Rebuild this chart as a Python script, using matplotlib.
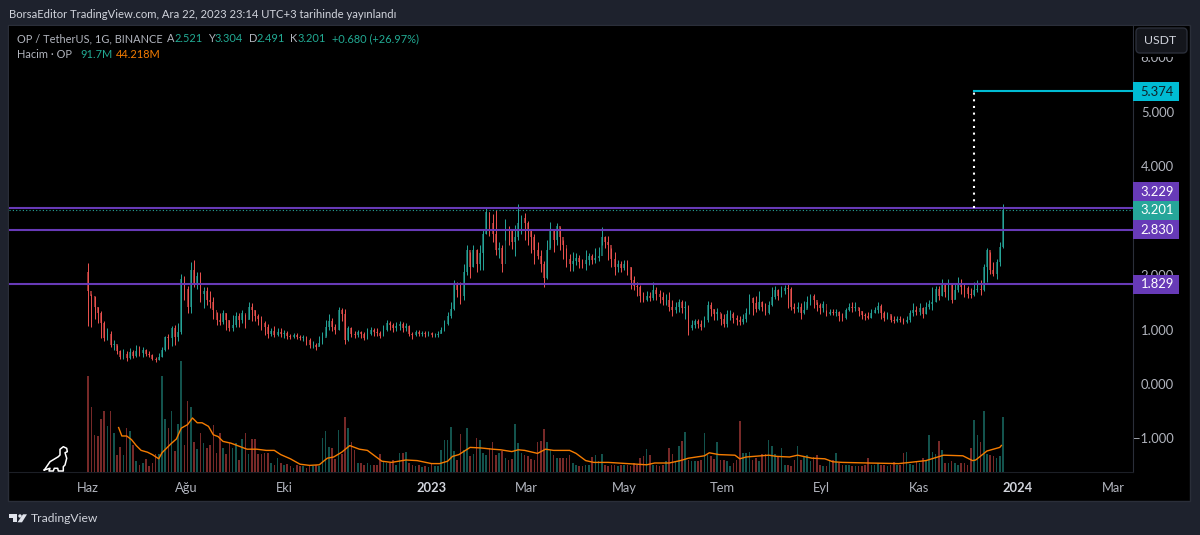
import numpy as np
import matplotlib
matplotlib.use("Agg")
import matplotlib.pyplot as plt
from matplotlib.patches import Rectangle, FancyBboxPatch, Polygon

plt.rcParams["font.family"] = ["Lato", "DejaVu Sans"]

# Values. Single daily candles are too thin to read, so one bar
# here stands for about two days (day 0 = 1 Jun 2022).
STEP_DAYS = 2
first_open = 2.05

closes = [
    1.70, 1.62, 1.42, 1.30, 1.12, 0.85, 0.92, 0.72, 0.74, 0.60,
    0.50, 0.55, 0.48, 0.58, 0.52, 0.60, 0.56, 0.62, 0.55, 0.54,
    0.46, 0.44, 0.50, 0.62, 0.86, 0.84, 1.02, 0.86, 0.95, 1.92,
    1.75, 1.42, 2.10, 1.85, 1.98, 1.65, 1.70, 1.55, 1.50, 1.35,
    1.18, 1.14, 1.30, 1.18, 1.02, 1.08, 1.25, 1.18, 1.30, 1.18,
    1.42, 1.35, 1.25, 1.20, 1.12, 1.05, 0.92, 0.98, 0.90, 0.96,
    0.92, 0.94, 0.88, 0.86, 0.90, 0.86, 0.84, 0.86, 0.80, 0.72,
    0.72, 0.68, 0.75, 0.85, 1.05, 1.15, 1.05, 1.00, 1.35, 1.28,
    0.80, 1.02, 0.92, 0.90, 0.95, 0.92, 0.84, 0.92, 1.00, 0.96,
    0.94, 0.88, 1.00, 1.12, 1.08, 1.02, 1.06, 1.10, 1.02, 1.06,
    0.92, 0.90, 0.96, 0.92, 0.94, 0.92, 0.94, 0.90, 0.90, 0.92,
    1.00, 1.10, 1.25, 1.38, 1.82, 1.72, 1.62, 2.05, 2.45, 2.15,
    2.45, 2.20, 2.40, 2.75, 3.15, 2.95, 2.75, 2.45, 2.50, 2.20,
    2.85, 2.80, 2.60, 2.70, 2.95, 3.05, 2.95, 2.85, 2.70, 2.45,
    2.35, 2.20, 1.95, 2.45, 2.80, 2.65, 2.90, 2.70, 2.55, 2.30,
    2.20, 2.25, 2.32, 2.24, 2.20, 2.28, 2.35, 2.28, 2.32, 2.35,
    2.70, 2.60, 2.55, 2.30, 2.15, 2.20, 2.12, 2.20, 2.15, 1.90,
    1.80, 1.78, 1.62, 1.55, 1.62, 1.58, 1.72, 1.65, 1.60, 1.55,
    1.55, 1.42, 1.36, 1.42, 1.50, 1.40, 1.42, 1.02, 1.08, 1.15,
    1.10, 1.05, 1.18, 1.45, 1.38, 1.28, 1.32, 1.20, 1.10, 1.28,
    1.28, 1.22, 1.18, 1.14, 1.20, 1.30, 1.58, 1.48, 1.38, 1.50,
    1.42, 1.30, 1.45, 1.60, 1.72, 1.62, 1.70, 1.76, 1.75, 1.42,
    1.38, 1.42, 1.30, 1.35, 1.50, 1.62, 1.55, 1.45, 1.40, 1.46,
    1.28, 1.32, 1.30, 1.32, 1.24, 1.22, 1.36, 1.42, 1.40, 1.42,
    1.34, 1.26, 1.24, 1.22, 1.30, 1.36, 1.44, 1.30, 1.22, 1.28,
    1.18, 1.16, 1.20, 1.18, 1.14, 1.18, 1.30, 1.36, 1.32, 1.40,
    1.28, 1.42, 1.46, 1.50, 1.75, 1.62, 1.82, 1.68, 1.86, 1.55,
    1.72, 1.82, 1.78, 1.76, 1.66, 1.64, 1.72, 1.74, 1.72, 2.15,
    2.45, 2.10, 2.02, 2.24, 2.52, 3.20,
]
highs = [
    2.22, 1.66, 1.62, 1.42, 1.34, 1.15, 1.02, 0.98, 0.80, 0.72,
    0.62, 0.64, 0.60, 0.66, 0.62, 0.72, 0.70, 0.68, 0.64, 0.60,
    0.55, 0.50, 0.56, 0.68, 0.88, 0.92, 1.06, 1.08, 1.12, 2.02,
    1.98, 1.80, 2.24, 2.28, 2.06, 2.05, 1.78, 1.78, 1.70, 1.60,
    1.32, 1.30, 1.36, 1.30, 1.18, 1.26, 1.32, 1.30, 1.35, 1.28,
    1.50, 1.48, 1.36, 1.28, 1.25, 1.15, 1.10, 1.02, 1.06, 1.02,
    1.02, 1.00, 0.98, 0.92, 0.94, 0.93, 0.90, 0.90, 0.88, 0.85,
    0.78, 0.75, 0.88, 0.95, 1.18, 1.28, 1.22, 1.10, 1.42, 1.40,
    1.38, 1.06, 1.05, 0.98, 1.00, 0.98, 0.96, 1.02, 1.04, 1.02,
    1.02, 0.98, 1.08, 1.18, 1.16, 1.12, 1.14, 1.16, 1.14, 1.12,
    1.08, 0.96, 1.00, 1.00, 0.98, 0.98, 0.98, 0.96, 0.94, 0.98,
    1.04, 1.18, 1.32, 1.50, 1.90, 1.88, 1.88, 2.20, 2.55, 2.42,
    2.55, 2.48, 2.55, 2.85, 3.25, 3.15, 3.12, 3.20, 2.60, 2.55,
    3.02, 2.90, 2.85, 2.92, 3.30, 3.10, 3.14, 3.00, 2.85, 2.75,
    2.60, 2.45, 2.25, 2.65, 2.98, 2.85, 2.96, 2.88, 2.65, 2.50,
    2.38, 2.42, 2.40, 2.36, 2.30, 2.46, 2.40, 2.38, 2.50, 2.52,
    2.88, 2.72, 2.72, 2.50, 2.42, 2.28, 2.26, 2.28, 2.28, 2.15,
    1.98, 1.88, 1.82, 1.68, 1.70, 1.68, 1.88, 1.78, 1.72, 1.68,
    1.66, 1.68, 1.55, 1.50, 1.56, 1.55, 1.52, 1.45, 1.18, 1.20,
    1.20, 1.18, 1.24, 1.52, 1.50, 1.38, 1.40, 1.30, 1.28, 1.36,
    1.35, 1.32, 1.26, 1.24, 1.28, 1.40, 1.66, 1.60, 1.62, 1.70,
    1.52, 1.48, 1.52, 1.78, 1.80, 1.74, 1.80, 1.82, 1.84, 1.78,
    1.48, 1.50, 1.48, 1.52, 1.62, 1.66, 1.66, 1.50, 1.48, 1.52,
    1.36, 1.38, 1.38, 1.38, 1.34, 1.30, 1.40, 1.48, 1.50, 1.50,
    1.42, 1.34, 1.30, 1.32, 1.38, 1.42, 1.50, 1.46, 1.34, 1.32,
    1.26, 1.24, 1.24, 1.24, 1.22, 1.24, 1.36, 1.48, 1.44, 1.48,
    1.42, 1.50, 1.54, 1.78, 1.80, 1.80, 1.92, 1.86, 1.92, 1.86,
    1.84, 1.96, 1.92, 1.84, 1.80, 1.76, 1.88, 1.90, 1.90, 2.20,
    2.50, 2.42, 2.24, 2.30, 2.60, 3.30,
]
lows = [
    1.06, 1.04, 1.20, 1.12, 0.85, 0.78, 0.80, 0.68, 0.62, 0.55,
    0.46, 0.46, 0.42, 0.46, 0.48, 0.50, 0.52, 0.50, 0.52, 0.50,
    0.44, 0.41, 0.44, 0.50, 0.60, 0.64, 0.70, 0.72, 0.78, 0.92,
    1.55, 1.30, 1.30, 1.78, 1.75, 1.50, 1.40, 1.45, 1.40, 1.20,
    1.08, 1.08, 1.10, 1.00, 0.98, 0.98, 1.04, 1.05, 1.12, 1.02,
    1.20, 1.15, 1.15, 1.08, 1.00, 0.90, 0.85, 0.88, 0.86, 0.88,
    0.86, 0.84, 0.82, 0.82, 0.84, 0.82, 0.80, 0.78, 0.72, 0.66,
    0.66, 0.63, 0.70, 0.74, 0.88, 1.00, 0.98, 0.92, 1.00, 1.15,
    0.74, 0.78, 0.86, 0.84, 0.86, 0.84, 0.80, 0.82, 0.90, 0.88,
    0.88, 0.84, 0.88, 0.98, 1.00, 0.96, 0.98, 1.00, 0.96, 0.98,
    0.88, 0.82, 0.88, 0.88, 0.88, 0.86, 0.88, 0.86, 0.86, 0.86,
    0.94, 0.98, 1.08, 1.22, 1.36, 1.60, 1.46, 1.55, 2.00, 1.95,
    2.15, 2.05, 2.10, 2.10, 2.75, 2.72, 2.60, 2.36, 2.32, 2.06,
    2.65, 2.55, 2.48, 2.35, 2.65, 2.75, 2.65, 2.55, 2.40, 2.20,
    2.30, 2.05, 1.78, 1.92, 2.50, 2.42, 2.55, 2.45, 2.30, 2.15,
    2.08, 2.08, 2.18, 2.12, 2.12, 2.10, 2.18, 2.20, 2.22, 2.25,
    2.55, 2.50, 2.28, 2.15, 2.00, 2.05, 2.05, 2.10, 2.00, 1.75,
    1.72, 1.62, 1.50, 1.50, 1.52, 1.52, 1.55, 1.55, 1.48, 1.45,
    1.45, 1.34, 1.24, 1.30, 1.32, 1.30, 1.20, 0.90, 1.00, 1.02,
    1.02, 1.00, 1.05, 1.14, 1.24, 1.18, 1.18, 1.08, 1.04, 1.05,
    1.18, 1.12, 1.08, 1.08, 1.10, 1.14, 1.28, 1.26, 1.32, 1.36,
    1.34, 1.26, 1.28, 1.44, 1.56, 1.55, 1.60, 1.66, 1.40, 1.36,
    1.30, 1.32, 1.20, 1.28, 1.40, 1.45, 1.40, 1.34, 1.28, 1.32,
    1.24, 1.26, 1.26, 1.24, 1.16, 1.16, 1.20, 1.34, 1.32, 1.34,
    1.24, 1.20, 1.18, 1.20, 1.22, 1.30, 1.30, 1.20, 1.16, 1.20,
    1.14, 1.12, 1.14, 1.14, 1.10, 1.12, 1.14, 1.24, 1.26, 1.26,
    1.22, 1.28, 1.38, 1.36, 1.50, 1.55, 1.62, 1.60, 1.55, 1.48,
    1.56, 1.68, 1.66, 1.60, 1.58, 1.58, 1.62, 1.68, 1.64, 1.70,
    1.88, 2.02, 1.98, 1.92, 2.16, 2.49,
]
volumes = [
    160, 108, 62, 60, 88, 101, 76, 101, 65, 29,
    42, 29, 73, 68, 45, 18, 12, 15, 22, 10,
    15, 30, 30, 160, 88, 73, 101, 35, 80, 185,
    45, 118, 108, 50, 38, 65, 48, 40, 45, 79,
    32, 65, 40, 30, 48, 40, 48, 20, 55, 65,
    30, 55, 55, 30, 30, 32, 32, 15, 12, 23,
    15, 12, 14, 10, 7, 12, 10, 10, 7, 10,
    10, 12, 10, 56, 68, 42, 40, 22, 70, 30,
    92, 73, 50, 37, 15, 15, 12, 15, 12, 12,
    12, 30, 18, 15, 15, 20, 12, 32, 32, 34,
    15, 12, 10, 12, 8, 10, 8, 14, 10, 10,
    37, 54, 54, 75, 35, 20, 64, 37, 73, 26,
    30, 57, 54, 32, 29, 40, 50, 29, 32, 35,
    23, 20, 22, 80, 48, 32, 29, 26, 22, 20,
    50, 52, 72, 50, 37, 29, 24, 23, 23, 23,
    29, 15, 12, 10, 10, 12, 12, 25, 29, 18,
    30, 12, 10, 12, 12, 10, 11, 12, 12, 10,
    15, 12, 23, 26, 38, 29, 12, 12, 10, 12,
    18, 40, 30, 18, 43, 52, 66, 20, 18, 18,
    18, 20, 65, 29, 26, 22, 50, 20, 20, 18,
    10, 15, 20, 85, 32, 32, 34, 20, 23, 18,
    30, 30, 53, 43, 30, 26, 40, 12, 12, 10,
    20, 43, 20, 26, 29, 18, 25, 29, 12, 10,
    10, 20, 20, 31, 15, 12, 12, 12, 10, 10,
    10, 10, 12, 23, 12, 12, 15, 12, 12, 10,
    12, 16, 12, 12, 32, 33, 14, 12, 18, 15,
    23, 20, 61, 34, 30, 51, 37, 15, 15, 18,
    15, 12, 15, 15, 12, 40, 86, 62, 50, 101,
    30, 28, 26, 24, 26, 92,
]
ma_days = [
    19, 21, 24, 27, 30, 33, 37, 40, 44, 46, 49, 52, 55, 58, 62, 65, 68, 71, 75, 78,
    81, 84, 89, 93, 99, 105, 111, 116, 120, 126, 132, 138, 144, 149, 153, 158, 163,
    169, 174, 179, 183, 189, 198, 205, 214, 219, 224, 227, 231, 238, 245, 252, 257,
    264, 268, 272, 280, 285, 290, 300, 304, 310, 315, 324, 336, 348, 353, 362, 369,
    374, 384, 387, 393, 403, 406, 410, 424, 429, 437, 442, 451, 459, 464, 470, 486,
    505, 512, 522, 533, 545, 551, 553, 560, 568, 569,
]
ma_values = [
    74, 60, 60, 54, 44, 36, 33, 29, 22, 32, 40, 48, 55, 73, 79, 90, 82, 82, 76, 62,
    59, 51, 48, 44, 38, 38, 36, 36, 29, 22, 13, 11, 12, 23, 25, 33, 44,
    38, 36, 26, 18, 16, 20, 19, 14, 14, 18, 26, 29, 41, 40, 38, 37,
    34, 37, 36, 31, 38, 36, 36, 31, 19, 16, 16, 14, 12, 15, 15, 19,
    23, 27, 32, 29, 28, 22, 25, 28, 26, 25, 28, 23, 22, 17, 16, 15,
    14, 16, 19, 28, 27, 19, 20, 35, 41, 44.2,
]
month_days = [0, 61, 122, 214, 273, 334, 395, 457, 518, 579, 639]
month_labels = ["Haz", "Ağu", "Eki", "2023", "Mar", "May", "Tem", "Eyl", "Kas", "2024", "Mar"]
# 3.000 sits fully behind the level tags in the chart, so it is not shown
price_ticks = [6, 5, 4, 2, 1, 0, -1]
support_levels = [3.229, 2.830, 1.829]
target_level = 5.374
last_close = 3.201

UP = "#26a69a"
DOWN = "#ef5350"
PURPLE = "#673ab7"
CYAN = "#00bcd4"
FRAME = "#1e222d"
GREY = "#b2b5be"

fig = plt.figure(figsize=(12, 5.35), dpi=100, facecolor=FRAME)


def px_axes(left, top, right, bottom):
    return fig.add_axes([left / 1200, 1 - bottom / 535, (right - left) / 1200, (bottom - top) / 535])


# black panel behind pane, scale and time axis
back = px_axes(0, 0, 1200, 535)
back.set_xlim(0, 1200)
back.set_ylim(535, 0)
back.axis("off")
back.add_patch(Rectangle((8, 25), 1182, 476, fc="black", ec="#2a2e39", lw=1))

ax = px_axes(9, 26, 1133, 472)
ax.set_facecolor("black")
ax.set_xlim(-49.3, 651)
ax.set_ylim(-1.615, 6.57)
for s in ax.spines.values():
    s.set_visible(False)
ax.spines["right"].set_visible(True)
ax.spines["right"].set_color("#2a2e39")
ax.spines["bottom"].set_visible(True)
ax.spines["bottom"].set_color("#1c1f26")

days = np.arange(len(closes)) * STEP_DAYS
closes = np.array(closes)
opens = np.r_[first_open, closes[:-1]]
colors = [UP if c >= o else DOWN for o, c in zip(opens, closes)]

ax.vlines(days, lows, highs, colors=colors, lw=0.7, zorder=3)
ax.bar(days, closes - opens, bottom=opens, width=1.1, color=colors, alpha=0.6, lw=0, zorder=3)

ax.yaxis.tick_right()
ax.set_yticks(price_ticks)
ax.set_yticklabels([f"{v:.3f}".replace("-", "\u2212") for v in price_ticks], color=GREY, fontsize=9.4, ha="right")
ax.tick_params(axis="y", length=0, pad=29.5)
ax.set_xticks(month_days)
ax.set_xticklabels(month_labels, color=GREY, fontsize=9.3)
ax.tick_params(axis="x", length=0, pad=7)
for lab in ax.get_xticklabels():
    if lab.get_text() in ("2023", "2024"):
        lab.set_fontweight("bold")
        lab.set_color("#d1d4dc")

for level in support_levels:
    ax.axhline(level, color=PURPLE, lw=1.5, zorder=4)
ax.axhline(last_close, color=UP, lw=0.8, ls=(0, (1, 2)), zorder=4)
target_day = 552
ax.plot([target_day, 651], [target_level, target_level], color=CYAN, lw=1.5, zorder=4)
ax.plot([target_day, target_day], [support_levels[0], target_level], color="white", lw=1.5, ls=(0, (1, 2.2)), zorder=4)

# volume overlay shares the pane, 0.6 px per million
vol = px_axes(9, 26, 1133, 472)
vol.patch.set_alpha(0)
vol.axis("off")
vol.set_xlim(ax.get_xlim())
vol.set_ylim(0, 743)
vol.bar(days, volumes, width=1.0, color=colors, alpha=0.5, lw=0)
vol.plot(ma_days, ma_values, color="#f57c00", lw=1.0)

# tags, header, legend and footer on a pixel overlay
top = px_axes(0, 0, 1200, 535)
top.set_xlim(0, 1200)
top.set_ylim(535, 0)
top.axis("off")
top.patch.set_alpha(0)


def label(x, y, s, color=GREY, size=7.9, **kw):
    top.text(x, y, s, color=color, fontsize=size, va="center", **kw)


def price_tag(y_top, y_bot, s, bg, fg="white"):
    top.add_patch(Rectangle((1133, y_top), 46, y_bot - y_top, fc=bg, lw=0))
    label(1174, (y_top + y_bot) / 2, s, color=fg, size=9.4, ha="right")


price_tag(82, 101, f"{target_level:.3f}", CYAN, "#10222a")
price_tag(182, 201, f"{support_levels[0]:.3f}", PURPLE)
price_tag(201, 220, f"{last_close:.3f}", UP)
price_tag(220, 239, f"{support_levels[1]:.3f}", PURPLE)
price_tag(275, 294, f"{support_levels[2]:.3f}", PURPLE)

# the scale button covers the top half of the 6.000 label
top.add_patch(Rectangle((1134, 26), 55, 30.5, fc="black", lw=0))
top.add_patch(FancyBboxPatch((1138, 30), 47, 21, boxstyle="round,pad=2,rounding_size=4", fc="#14161c", ec="#2a2e39", lw=1))
label(1160, 41, "USDT", color="#d1d4dc", size=8.8, ha="center")

label(9, 14, "BorsaEditor TradingView.com, Ara 22, 2023 23:14 UTC+3 tarihinde yayınlandı", color="#d1d4dc", size=8.1)

teal = "#22ab94"
label(17, 39, "OP / TetherUS, 1G, BINANCE")
label(167, 39, "A")
label(174, 39, "2.521", teal)
label(208, 39, "Y")
label(215, 39, "3.304", teal)
label(249, 39, "D")
label(256, 39, "2.491", teal)
label(290, 39, "K")
label(298, 39, "3.201", teal)
label(332, 39, "+0.680 (+26.97%)", teal)
label(17, 55, "Hacim · OP")
label(80, 55, "91.7M", teal)
label(116, 55, "44.218M", "#f57c00")

# dino watermark
dino_x = [44.3, 50, 58.3, 60, 60, 63.3, 66.7, 67.3, 65, 66.7, 65, 63.3, 63.3, 58.3, 57.7, 54.3, 53.3, 49, 50, 44.3]
dino_y = [470, 461.7, 456.7, 455, 449.3, 446.7, 448.3, 451.7, 452.7, 458.3, 465, 466.7, 471, 471, 468.3, 468.3, 471, 471, 468.3, 470]
top.plot(dino_x, dino_y, color="white", lw=1.1)

# TradingView logo
logo = "#e0e3eb"
top.add_patch(Polygon([(9.3, 514.3), (16.7, 514.3), (16.7, 522.3), (12.7, 522.3), (12.7, 518.3), (9.3, 518.3)], fc=logo, lw=0))
top.add_patch(Polygon([(23, 514.3), (27, 514.3), (22, 522.3), (17.5, 522.3)], fc=logo, lw=0))
top.add_patch(plt.Circle((20, 516), 1.7, fc=logo, lw=0))
label(31, 518.5, "TradingView", color="#d1d4dc", size=8.7)

fig.savefig("out.png", dpi=100, facecolor=FRAME)
